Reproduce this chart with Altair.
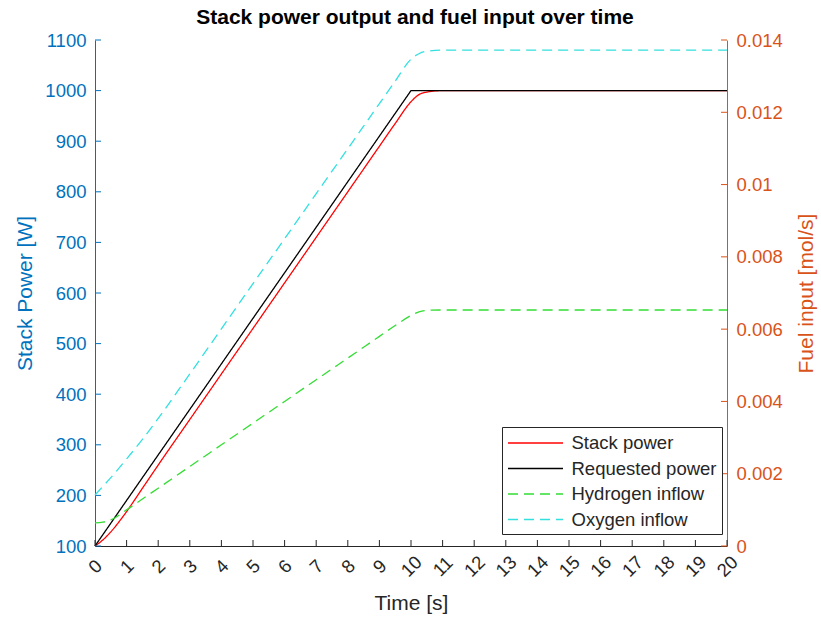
import altair as alt
import pandas as pd

# ---- data ----
time = [0, 0.25, 0.5, 1, 1.5, 2, 3, 4, 5, 6, 7, 8, 9, 9.5, 10, 10.25, 10.5, 11, 12, 20]
requested_power = [100, 122.5, 145, 190, 235, 280, 370, 460, 550, 640, 730, 820, 910, 955, 1000, 1000, 1000, 1000, 1000, 1000]
stack_power = [100, 112, 128, 168, 214, 260, 350, 440, 530, 620, 710, 800, 890, 935, 978, 992, 997, 1000, 1000, 1000]
hydrogen_inflow = [0.00064, 0.00066, 0.00072, 0.00100, 0.00130, 0.00160, 0.00220, 0.00280, 0.00340, 0.00400,
                   0.00460, 0.00520, 0.00580, 0.00610, 0.00638, 0.00648, 0.00652, 0.00653, 0.00653, 0.00653]
oxygen_inflow = [0.00141, 0.00165, 0.00189, 0.00241, 0.00295, 0.00353, 0.00476, 0.00601, 0.00726, 0.00850,
                 0.00975, 0.01099, 0.01224, 0.01286, 0.01347, 0.01362, 0.01369, 0.01372, 0.01372, 0.01372]

series_names = ["Stack power", "Requested power", "Hydrogen inflow", "Oxygen inflow"]
series_colors = ["#ff0000", "#000000", "#33dd33", "#33e0e0"]
series_dashes = [[1, 0], [1, 0], [10, 6], [10, 6]]

x_ticks = list(range(0, 21))
power_ticks = list(range(100, 1101, 100))
fuel_ticks = [0, 0.002, 0.004, 0.006, 0.008, 0.01, 0.012, 0.014]

BLUE = "#0072BD"
ORANGE = "#D95319"
DARK = "#262626"
FONT = "Liberation Sans"
W, H = 632, 506
LBL = 18.5
TTL = 21

def long(name, values, field):
    return pd.DataFrame({"t": time, field: values, "series": name})

df_req = long("Requested power", requested_power, "P")
df_stack = long("Stack power", stack_power, "P")
df_h2 = long("Hydrogen inflow", hydrogen_inflow, "F")
df_o2 = long("Oxygen inflow", oxygen_inflow, "F")

df_xt = pd.DataFrame({"t": x_ticks})
df_pt = pd.DataFrame({"P": power_ticks})
df_ft = pd.DataFrame({"F": fuel_ticks})

x_enc = alt.X("t:Q", scale=alt.Scale(domain=[0, 20], nice=False),
              axis=alt.Axis(values=x_ticks, format="d", title="Time [s]", labelAngle=-45, labelAlign="center",
                            labelBaseline="middle", labelPadding=20, ticks=False, tickSize=0,
                            grid=False, domainColor=DARK, labelColor=DARK, titleColor=DARK,
                            labelFontSize=LBL, titleFontSize=TTL, titleFontWeight="normal",
                            titlePadding=13, labelFont=FONT, titleFont=FONT))

y_left = alt.Y("P:Q", scale=alt.Scale(domain=[100, 1100], nice=False, zero=False),
               axis=alt.Axis(values=power_ticks, format="d", title="Stack Power [W]", orient="left",
                             ticks=False, tickSize=0, grid=False, domainColor=BLUE,
                             labelColor=BLUE, titleColor=BLUE, labelFontSize=LBL,
                             titleFontSize=TTL, titleFontWeight="normal", labelPadding=9,
                             titlePadding=9, labelFont=FONT, titleFont=FONT))

y_right = alt.Y("F:Q", scale=alt.Scale(domain=[0, 0.014], nice=False),
                axis=alt.Axis(values=fuel_ticks, format="~g", title="Fuel input [mol/s]",
                              orient="right", ticks=False, tickSize=0, grid=False,
                              domainColor=ORANGE, labelColor=ORANGE, titleColor=ORANGE,
                              labelFontSize=LBL, titleFontSize=TTL, titleFontWeight="normal",
                              labelPadding=9, titlePadding=13, titleAngle=270, titleBaseline="top",
                              labelFont=FONT, titleFont=FONT))

legend_opts = dict(title=None, orient="none", legendX=407, legendY=387,
                   symbolType="M-2.75,0H2.75", symbolSize=400, symbolStrokeWidth=1.3,
                   symbolOffset=17.5, labelOffset=25,
                   labelFontSize=LBL, labelFont=FONT, labelColor=DARK,
                   fillColor="white", strokeColor=DARK, padding=5, rowPadding=4.5)

color_enc = alt.Color("series:N", scale=alt.Scale(domain=series_names, range=series_colors),
                      legend=alt.Legend(**legend_opts))
dash_enc = alt.StrokeDash("series:N", scale=alt.Scale(domain=series_names, range=series_dashes),
                          legend=alt.Legend(**legend_opts))

req_line = alt.Chart(df_req).mark_line(strokeWidth=1.3).encode(x=x_enc, y=y_left, color=color_enc, strokeDash=dash_enc)
stack_line = alt.Chart(df_stack).mark_line(strokeWidth=1.3, interpolate="monotone").encode(
    x=x_enc, y=y_left, color=color_enc, strokeDash=dash_enc)
h2_line = alt.Chart(df_h2).mark_line(strokeWidth=1.3, interpolate="monotone").encode(
    x=x_enc, y=y_right, color=color_enc, strokeDash=dash_enc)
o2_line = alt.Chart(df_o2).mark_line(strokeWidth=1.3, interpolate="monotone").encode(
    x=x_enc, y=y_right, color=color_enc, strokeDash=dash_enc)

x_tick_marks = alt.Chart(df_xt).mark_rule(color=DARK, strokeWidth=1).encode(
    x=x_enc, y=alt.value(H), y2=alt.value(H - 6))
left_tick_marks = alt.Chart(df_pt).mark_rule(color=BLUE, strokeWidth=1).encode(
    y=y_left, x=alt.value(0), x2=alt.value(6))
right_tick_marks = alt.Chart(df_ft).mark_rule(color=ORANGE, strokeWidth=1).encode(
    y=y_right, x=alt.value(W), x2=alt.value(W - 6))

left = alt.layer(stack_line, req_line, x_tick_marks, left_tick_marks)
right = alt.layer(h2_line, o2_line, right_tick_marks)

chart = alt.layer(left, right).resolve_scale(y="independent").properties(
    width=W, height=H,
    title=alt.Title("Stack power output and fuel input over time", fontSize=21, fontWeight="bold",
                    font=FONT, color="#000000", offset=3, anchor="middle", dx=4),
    autosize=alt.AutoSizeParams(type="none"),
    padding={"left": 95, "top": 40, "right": 94, "bottom": 73},
    background="white",
).configure_view(strokeWidth=0)

chart.save("out.html", embed_options={"renderer": "svg", "actions": False})
